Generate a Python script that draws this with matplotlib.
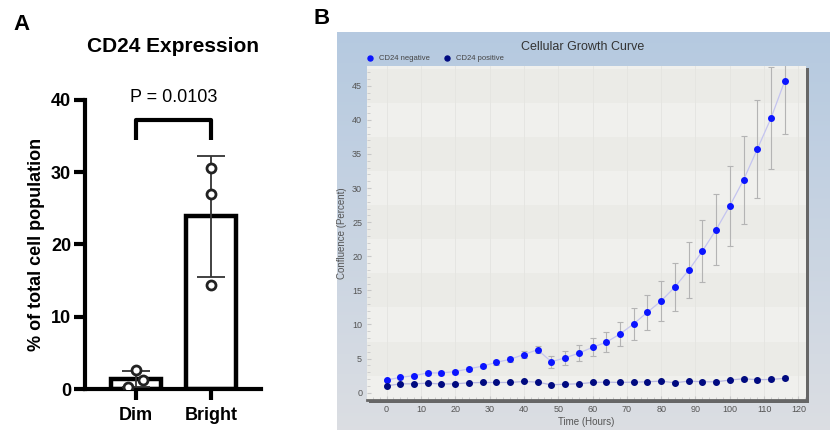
import numpy as np
import matplotlib.pyplot as plt
from matplotlib.ticker import MultipleLocator

plt.rcParams['font.family'] = ['Liberation Sans', 'DejaVu Sans']

# Panel A data
groups = ['Dim', 'Bright']
means = [1.37, 23.9]
sds = [1.16, 8.4]
dim_pts = [2.6, 1.2, 0.3]
bright_pts = [30.6, 27.0, 14.4]
p_text = 'P = 0.0103'

# Panel B data
hours = list(range(0, 120, 4))
neg = [1.86, 2.25, 2.5, 2.9, 2.9, 3.1, 3.5, 3.9, 4.45, 4.9, 5.6, 6.3,
       4.55, 5.1, 5.8, 6.65, 7.4, 8.6, 10.1, 11.8, 13.45, 15.5, 17.95, 20.75,
       23.9, 27.4, 31.2, 35.7, 40.25, 45.7]
neg_err = [0.2, 0.2, 0.25, 0.3, 0.3, 0.3, 0.3, 0.35, 0.4, 0.4, 0.45, 0.5,
           0.9, 1.05, 1.15, 1.3, 1.5, 1.75, 2.3, 2.55, 3.0, 3.55, 4.1, 4.55,
           5.2, 5.85, 6.5, 7.15, 7.5, 7.8]
pos = [1.0, 1.3, 1.3, 1.4, 1.27, 1.3, 1.45, 1.5, 1.5, 1.5, 1.65, 1.55,
       1.15, 1.25, 1.3, 1.5, 1.55, 1.5, 1.55, 1.6, 1.7, 1.45, 1.7, 1.6,
       1.6, 1.85, 2.05, 1.9, 1.95, 2.1]
pos_err = [0.15] * 20 + [0.2] * 6 + [0.3] * 4

fig = plt.figure(figsize=(8.34, 4.32), dpi=100)
W, H = 834, 432

def box(l, t, r, b):
    return [l / W, 1 - b / H, (r - l) / W, (b - t) / H]

# ---------------- Panel A ----------------
ax = fig.add_axes(box(85, 100, 261, 389))
x = np.arange(len(groups))
ax.bar(x, means, width=0.67, color='white', edgecolor='black', linewidth=3.2, zorder=2)
ax.errorbar(x, means, yerr=sds, fmt='none', ecolor='#333333', elinewidth=1.3,
            capsize=10, capthick=1.3, zorder=3)
ax.scatter(np.array([0.0, 0.1, -0.1]), dim_pts, s=42, facecolor='white',
           edgecolor='#222222', linewidth=2, zorder=4)
ax.scatter([1, 1, 1], bright_pts, s=42, facecolor='white',
           edgecolor='#222222', linewidth=2, zorder=4)
ax.plot([0, 0, 1, 1], [34.5, 37.2, 37.2, 34.5], color='black', lw=3, solid_capstyle='butt')
ax.text(0.5, 39.2, p_text, ha='center', va='bottom', fontsize=13)
ax.set_xlim(-0.68, 1.667)
ax.set_ylim(0, 40)
ax.set_yticks([0, 10, 20, 30, 40])
ax.set_xticks(x)
ax.set_xticklabels(groups, fontsize=13, fontweight='bold')
for lab in ax.get_yticklabels():
    lab.set_fontsize(13)
    lab.set_fontweight('bold')
ax.tick_params(width=3, length=8, pad=2)
ax.tick_params(axis='x', pad=5)
for s in ['top', 'right']:
    ax.spines[s].set_visible(False)
for s in ['left', 'bottom']:
    ax.spines[s].set_linewidth(3)
ax.set_ylabel('% of total cell population', fontsize=13, fontweight='bold', labelpad=4)
fig.text(173 / W, 1 - 46 / H, 'CD24 Expression', fontsize=15, fontweight='bold',
         ha='center', va='center')
fig.text(22 / W, 1 - 24 / H, 'A', fontsize=16, fontweight='bold', ha='center', va='center')
fig.text(322 / W, 1 - 19 / H, 'B', fontsize=16, fontweight='bold', ha='center', va='center')

# ---------------- Panel B ----------------
bg = fig.add_axes(box(337, 32, 830, 430))
grad = np.linspace(0, 1, 256).reshape(-1, 1)
top = np.array([0.71, 0.79, 0.88])
bot = np.array([0.86, 0.87, 0.89])
img = top + (bot - top) * grad[:, :, None]
bg.imshow(img, aspect='auto', extent=[0, 1, 0, 1])
bg.set_axis_off()

# shadow
sh = fig.add_axes(box(369, 68, 809, 403))
sh.set_facecolor('#666666')
sh.set_xticks([])
sh.set_yticks([])
for s in sh.spines.values():
    s.set_visible(False)

bx = fig.add_axes(box(367, 66, 806, 400))
bx.set_facecolor('#f0f0ed')
bx.set_xlim(-5.7, 122.2)
bx.set_ylim(-1.07, 47.9)
for y0 in range(0, 50, 10):
    bx.axhspan(y0 + 2.5, y0 + 7.5, color='#ebebe7', lw=0, zorder=0)
bx.grid(axis='x', color='#e4e4e0', lw=0.6, zorder=0)
bx.errorbar(hours, neg, yerr=neg_err, fmt='none', ecolor='#b4b4b4', elinewidth=0.8,
            capsize=2, capthick=0.8, zorder=2)
bx.errorbar(hours, pos, yerr=pos_err, fmt='none', ecolor='#b4b4b4', elinewidth=0.8,
            capsize=2, capthick=0.8, zorder=2)
bx.plot(hours, neg, color='#c4c4f0', lw=0.9, zorder=3)
bx.plot(hours, pos, color='#b8b8e0', lw=0.9, zorder=3)
bx.plot(hours, neg, 'o', color='#0a14ff', ms=4, zorder=4, label='CD24 negative')
bx.plot(hours, pos, 'o', color='#000a80', ms=4, zorder=4, label='CD24 positive')
bx.set_xticks(range(0, 121, 10))
bx.set_yticks(range(0, 46, 5))
bx.xaxis.set_minor_locator(MultipleLocator(2))
bx.yaxis.set_minor_locator(MultipleLocator(1))
bx.tick_params(which='both', direction='in', colors='#c8c8c8', labelcolor='#555555',
               labelsize=6.5, length=3)
bx.tick_params(which='minor', length=2)
for s in ['top', 'right', 'left']:
    bx.spines[s].set_visible(False)
bx.spines['bottom'].set_color('#666666')
bx.spines['bottom'].set_linewidth(2)
bx.set_xlabel('Time (Hours)', fontsize=7, color='#555555', labelpad=2)
bx.set_ylabel('Confluence (Percent)', fontsize=7, color='#555555', labelpad=4)
fig.text(583 / W, 1 - 47 / H, 'Cellular Growth Curve', fontsize=9, color='#333333',
         ha='center', va='center')
bx.legend(loc='lower left', bbox_to_anchor=(-0.02, 1.0), ncol=2, frameon=False,
          fontsize=5.5, handletextpad=0.2, columnspacing=1.2, markerscale=0.9,
          labelcolor='#444444', borderaxespad=0.1)

fig.savefig('out.png', dpi=100)
